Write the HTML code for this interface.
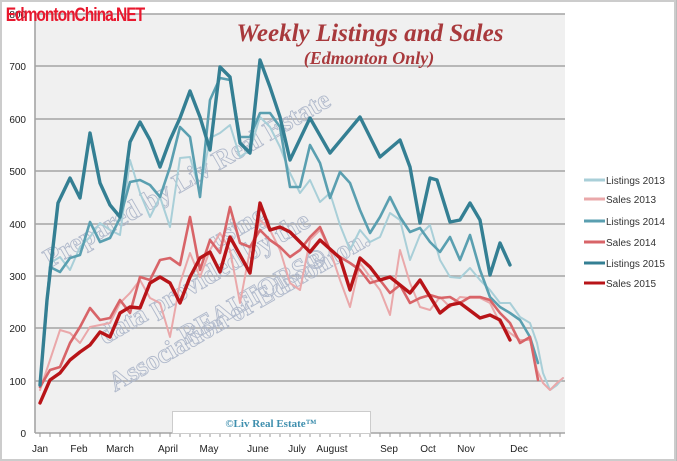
<!DOCTYPE html>
<html><head><meta charset="utf-8"><style>
html,body{margin:0;padding:0;background:#fff;}
body{width:677px;height:461px;overflow:hidden;position:relative;}
</style></head><body>
<svg width="677" height="461" viewBox="0 0 677 461" xmlns="http://www.w3.org/2000/svg" style="position:absolute;left:0;top:0">
<rect x="0.5" y="0.5" width="676" height="460" fill="#fff" stroke="#bbb"/>
<rect x="1" y="1" width="674" height="459" fill="none" stroke="#ccc" stroke-width="2"/>
<rect x="35" y="14" width="530" height="419" fill="#f0f0f0"/>
<g stroke="#a4a4a4" stroke-width="1.6">
<line x1="35" y1="14" x2="565" y2="14"/>
<line x1="35" y1="66" x2="565" y2="66"/>
<line x1="35" y1="119" x2="565" y2="119"/>
<line x1="35" y1="171" x2="565" y2="171"/>
<line x1="35" y1="224" x2="565" y2="224"/>
<line x1="35" y1="276" x2="565" y2="276"/>
<line x1="35" y1="328" x2="565" y2="328"/>
<line x1="35" y1="381" x2="565" y2="381"/>
<line x1="35" y1="433" x2="565" y2="433"/>
<line x1="35" y1="14" x2="35" y2="433"/>
</g>
<g stroke="#999" stroke-width="1">
<path d="M40 433v4M50 433v4M60 433v4M70 433v4M80 433v4M90 433v4M100 433v4M110 433v4M120 433v4M130 433v4M140 433v4M150 433v4M160 433v4M170 433v4M180 433v4M190 433v4M200 433v4M210 433v4M220 433v4M230 433v4M240 433v4M250 433v4M260 433v4M270 433v4M280 433v4M290 433v4M300 433v4M310 433v4M320 433v4M330 433v4M340 433v4M350 433v4M360 433v4M370 433v4M380 433v4M390 433v4M400 433v4M410 433v4M420 433v4M430 433v4M440 433v4M450 433v4M460 433v4M470 433v4M480 433v4M490 433v4M500 433v4M510 433v4M520 433v4M530 433v4M540 433v4M550 433v4M560 433v4"/>
</g>
<g font-family="Liberation Sans, sans-serif" font-size="10" fill="#222" text-anchor="end">
<text x="26" y="18">800</text>
<text x="26" y="70">700</text><text x="26" y="123">600</text><text x="26" y="175">500</text>
<text x="26" y="228">400</text><text x="26" y="280">300</text><text x="26" y="332">200</text>
<text x="26" y="385">100</text><text x="26" y="437">0</text>
</g>
<g font-family="Liberation Sans, sans-serif" font-size="10" fill="#222" text-anchor="middle">
<text x="40" y="452">Jan</text><text x="79" y="452">Feb</text><text x="120" y="452">March</text>
<text x="168" y="452">April</text><text x="209" y="452">May</text><text x="258" y="452">June</text>
<text x="297" y="452">July</text><text x="332" y="452">August</text><text x="389" y="452">Sep</text>
<text x="428" y="452">Oct</text><text x="466" y="452">Nov</text><text x="519" y="452">Dec</text>
</g>
<g font-family="Liberation Serif, serif" font-weight="bold" font-size="27" fill="none" stroke="#aab4c8" stroke-width="0.9" opacity="0.9">
<text transform="translate(50,268) rotate(-30)">Prepared by Liv Real Estate</text>
<text transform="translate(215,250) rotate(-30)">using</text>
<text transform="translate(105,345) rotate(-30)">data provided by the</text>
<text transform="translate(185,345) rotate(-30)">REALTORS®</text>
<text transform="translate(115,392) rotate(-30)">Association of Edmonton.</text>
</g>
<g fill="none" stroke-linejoin="round" stroke-linecap="round">
<polyline stroke="#a9cfd8" stroke-width="2" points="40,380 50,263 60,257 70,270 80,247 90,237 100,223 110,230 120,235 130,160 140,193 150,217 160,197 170,227 180,158 190,157 200,192 210,138 220,133 230,125 240,157 250,150 260,117 270,127 280,147 290,173 300,193 310,180 320,202 330,193 340,225 350,250 360,230 370,242 380,237 390,213 400,220 410,260 420,235 430,225 440,260 450,277 460,278 470,268 480,280 490,290 500,303 510,303 520,317 530,323 537,343 543,373 550,390 557,385 563,378"/>
<polyline stroke="#eaa8aa" stroke-width="2" points="40,390 50,360 60,330 70,333 80,343 90,327 100,325 110,323 120,303 130,293 140,280 150,298 160,303 170,337 180,283 190,253 200,277 210,250 220,233 230,250 240,303 250,250 260,220 270,230 280,250 290,283 300,290 310,240 320,230 330,250 340,280 350,307 360,263 370,277 380,290 390,315 400,250 410,283 420,307 430,310 440,297 450,307 460,297 470,298 480,298 490,303 500,323 510,333 520,340 530,340 537,370 543,383 550,390 557,383 563,378"/>
<polyline stroke="#5a9fb0" stroke-width="2.6" points="40,385 50,267 60,272 70,258 80,255 90,222 100,242 110,238 120,218 130,182 140,180 150,185 160,197 170,167 180,127 190,137 200,197 210,100 220,78 230,80 240,137 250,137 260,113 270,113 280,127 290,187 300,187 310,145 320,163 330,198 340,172 350,183 360,210 370,233 380,217 390,197 400,217 410,232 420,228 430,242 440,252 450,237 460,260 470,235 480,270 490,297 500,307 510,313 520,320 530,337 538,363"/>
<polyline stroke="#d86468" stroke-width="2.6" points="40,387 50,370 60,367 70,343 80,327 90,308 100,320 110,318 120,300 130,313 140,277 150,280 160,260 170,258 180,265 190,217 200,270 210,240 220,253 230,207 240,243 250,247 260,230 270,240 280,247 290,257 300,250 310,237 320,227 330,250 340,257 350,263 360,270 370,283 380,280 390,293 400,285 410,303 420,298 430,295 440,298 450,297 460,303 470,297 480,297 490,300 500,313 510,323 520,343 530,337 538,380"/>
<polyline stroke="#347f93" stroke-width="3.4" points="40,385 47,300 58,203 70,178 80,198 90,133 100,183 110,205 120,217 130,142 140,122 150,140 160,167 170,140 180,118 190,91 200,117 210,150 220,67 230,77 240,143 250,153 260,60 270,87 280,117 290,160 310,118 330,153 360,117 380,157 400,140 410,167 420,223 430,178 437,180 450,222 460,220 470,203 480,220 490,275 500,243 510,265"/>
<polyline stroke="#b81418" stroke-width="3.4" points="40,403 50,380 60,373 70,360 80,352 90,345 100,332 110,337 120,313 130,307 140,308 150,283 160,277 170,283 180,303 190,277 200,258 210,252 220,272 230,237 240,255 250,273 260,203 270,230 280,227 290,232 310,252 320,240 340,258 350,290 360,258 370,267 380,280 390,277 410,293 420,280 440,313 450,305 460,303 480,318 490,315 500,320 510,340"/>
</g>
<rect x="172.5" y="411.5" width="198" height="22" fill="#fff" stroke="#ccc"/>
<text x="271" y="427" text-anchor="middle" font-family="Liberation Serif, serif" font-weight="bold" font-size="11" fill="#3f8fae">©Liv Real Estate™</text>
<text x="370" y="41" text-anchor="middle" font-family="Liberation Serif, serif" font-weight="bold" font-style="italic" font-size="25" fill="#a8393c">Weekly Listings and Sales</text>
<text x="369" y="64" text-anchor="middle" font-family="Liberation Serif, serif" font-weight="bold" font-style="italic" font-size="18" fill="#a8393c">(Edmonton Only)</text>
<text x="7" y="21" font-family="Liberation Sans, sans-serif" font-weight="bold" font-size="19" fill="#e8182e" transform="scale(0.82,1)" textLength="170">EdmontonChina.NET</text>
<g stroke-width="3">
<line x1="584" y1="180" x2="605" y2="180" stroke="#a9cfd8"/>
<line x1="584" y1="199" x2="605" y2="199" stroke="#eaa8aa"/>
<line x1="584" y1="221" x2="605" y2="221" stroke="#5a9fb0"/>
<line x1="584" y1="242" x2="605" y2="242" stroke="#d86468"/>
<line x1="584" y1="263" x2="605" y2="263" stroke="#347f93"/>
<line x1="584" y1="283" x2="605" y2="283" stroke="#b81418"/>
</g>
<g font-family="Liberation Sans, sans-serif" font-size="10" fill="#333">
<text x="606" y="184">Listings 2013</text><text x="606" y="203">Sales 2013</text>
<text x="606" y="225">Listings 2014</text><text x="606" y="246">Sales 2014</text>
<text x="606" y="267">Listings 2015</text><text x="606" y="287">Sales 2015</text>
</g>
</svg>
</body></html>
